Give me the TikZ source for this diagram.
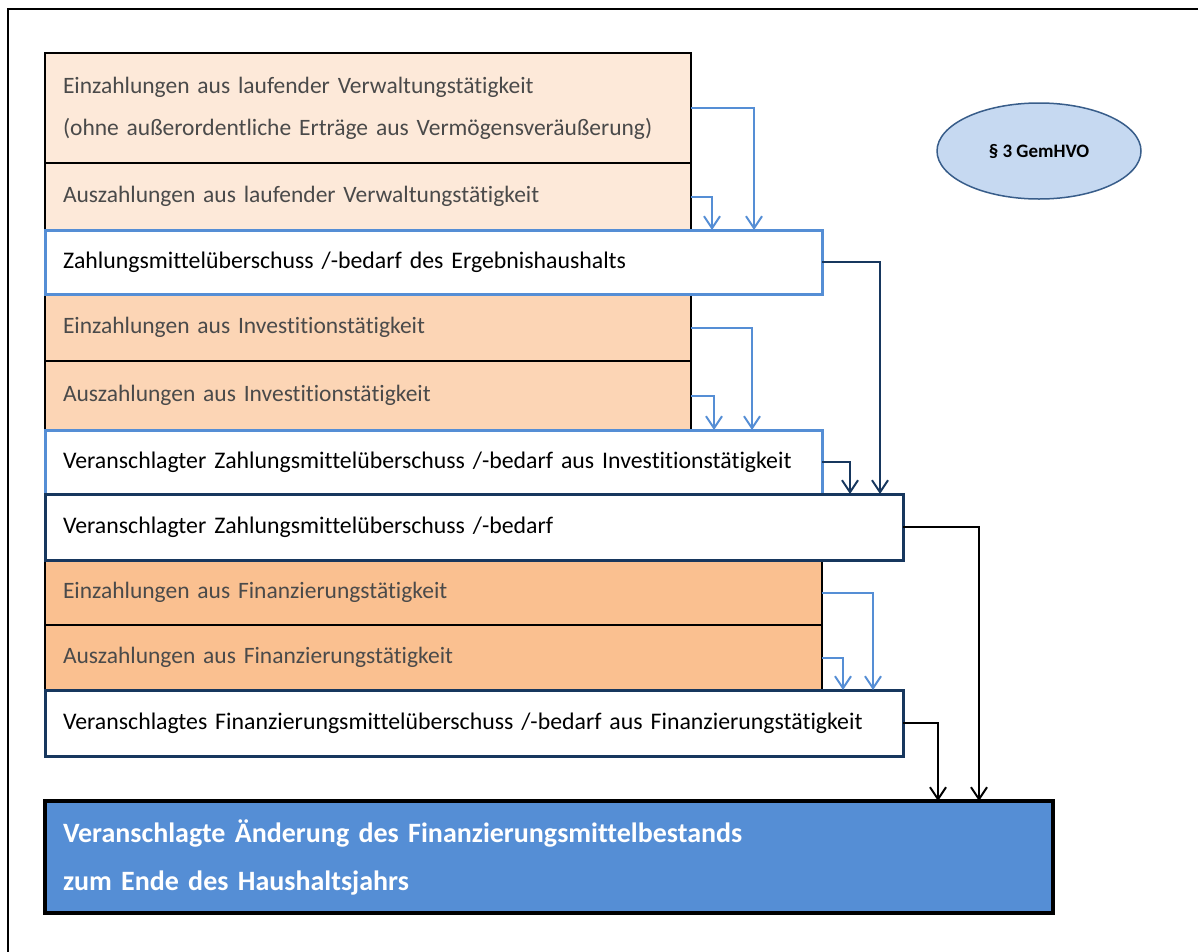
\documentclass[tikz,border=0pt]{standalone}
\usepackage{fontspec}
\setmainfont{Carlito}[Ligatures=NoCommon]
\usetikzlibrary{arrows.meta,shapes.geometric}
\definecolor{peachA}{HTML}{FDE9D9}
\definecolor{peachB}{HTML}{FCD5B5}
\definecolor{peachC}{HTML}{FAC090}
\definecolor{lblue}{HTML}{558ED5}
\definecolor{navy}{HTML}{17375E}
\definecolor{ellF}{HTML}{C6D9F1}
\definecolor{ellB}{HTML}{385D8A}
\definecolor{lighttext}{HTML}{4A4A4A}
\begin{document}
\begin{tikzpicture}[x=1pt,y=-1pt,
  bx/.style={draw, rectangle, anchor=north west, outer sep=0pt, inner xsep=18pt, inner ysep=0pt, align=left},
  obox/.style={bx, draw=black, line width=2pt, text=lighttext, font=\fontsize{23.5}{28}\selectfont},
  wbox/.style={bx, fill=white, line width=3pt, text=black, font=\fontsize{23.8}{28}\selectfont},
  arrB/.style={draw=lblue, line width=2pt, -{Straight Barb[length=12pt,width=16pt]}},
  arrN/.style={draw=navy, line width=2pt, -{Straight Barb[length=12pt,width=16pt]}},
  arrK/.style={draw=black, line width=2pt, -{Straight Barb[length=12pt,width=16pt]}}
]
\useasboundingbox (0,0) rectangle (1198,951);
\draw[line width=2.5pt] (1210,9) -- (8,9) -- (8,960);

% orange boxes
\node[obox, fill=peachA, minimum width=646pt, minimum height=110pt, text width=610pt] (b1) at (45,53)
  {Einzahlungen aus laufender Verwaltungstätigkeit\\[14pt](ohne außerordentliche Erträge aus Vermögensveräußerung)};
\node[obox, fill=peachA, minimum width=646pt, minimum height=67pt, text width=610pt] (b2) at (45,163)
  {Auszahlungen aus laufender Verwaltungstätigkeit};
\node[obox, fill=peachB, minimum width=646pt, minimum height=67pt, text width=610pt] (b4) at (45,294)
  {Einzahlungen aus Investitionstätigkeit};
\node[obox, fill=peachB, minimum width=646pt, minimum height=69pt, text width=610pt] (b5) at (45,361)
  {Auszahlungen aus Investitionstätigkeit};
\node[obox, fill=peachC, minimum width=777pt, minimum height=65pt, text width=741pt] (b8) at (45,560)
  {Einzahlungen aus Finanzierungstätigkeit};
\node[obox, fill=peachC, minimum width=777pt, minimum height=65pt, text width=741pt] (b9) at (45,625)
  {Auszahlungen aus Finanzierungstätigkeit};

% white boxes
\node[wbox, draw=lblue, minimum width=777pt, minimum height=64pt, text width=741pt] (b3) at (45,230)
  {Zahlungsmittelüberschuss /-bedarf des Ergebnishaushalts};
\node[wbox, draw=lblue, minimum width=777pt, minimum height=64pt, text width=741pt] (b6) at (45,430)
  {Veranschlagter Zahlungsmittelüberschuss /-bedarf aus Investitionstätigkeit};
\node[wbox, draw=navy, minimum width=858pt, minimum height=66pt, text width=822pt] (b7) at (45,494)
  {Veranschlagter Zahlungsmittelüberschuss /-bedarf};
\node[wbox, draw=navy, minimum width=858pt, minimum height=66pt, text width=822pt] (b10) at (45,690)
  {Veranschlagtes Finanzierungsmittelüberschuss /-bedarf aus Finanzierungstätigkeit};

% result box
\node[bx, draw=black, fill=lblue, line width=4pt, text=white, minimum width=1008pt, minimum height=112pt, text width=972pt,
  font=\bfseries\fontsize{28}{34}\selectfont] (b11) at (45,801)
  {Veranschlagte Änderung des Finanzierungsmittelbestands\\[14pt]zum Ende des Haushaltsjahrs};

% ellipse
\node[ellipse, draw=ellB, fill=ellF, line width=1.5pt, minimum width=204pt, minimum height=96pt, inner sep=0pt,
  font=\bfseries\fontsize{19}{23}\selectfont] (gem) at (1039,151) {§ 3 GemHVO};

% connectors
\draw[arrB] (b1.east) -- ++(63,0) coordinate (t1) -- (t1 |- b3.north);
\draw[arrB] (b2.east) -- ++(21,0) coordinate (t2) -- (t2 |- b3.north);
\draw[arrN] (b3.east) -- ++(58,0) coordinate (t3) -- (t3 |- b7.north);
\draw[arrB] (b4.east) -- ++(61,0) coordinate (t4) -- (t4 |- b6.north);
\draw[arrB] (b5.east) -- ++(23,0) coordinate (t5) -- (t5 |- b6.north);
\draw[arrN] (b6.east) -- ++(28,0) coordinate (t6) -- (t6 |- b7.north);
\draw[arrK] (b7.east) -- ++(76,0) coordinate (t7) -- (t7 |- b11.north);
\draw[arrB] (b8.east) -- ++(51,0) coordinate (t8) -- (t8 |- b10.north);
\draw[arrB] (b9.east) -- ++(21,0) coordinate (t9) -- (t9 |- b10.north);
\draw[arrK] (b10.east) -- ++(35,0) coordinate (t10) -- (t10 |- b11.north);
\end{tikzpicture}
\end{document}
